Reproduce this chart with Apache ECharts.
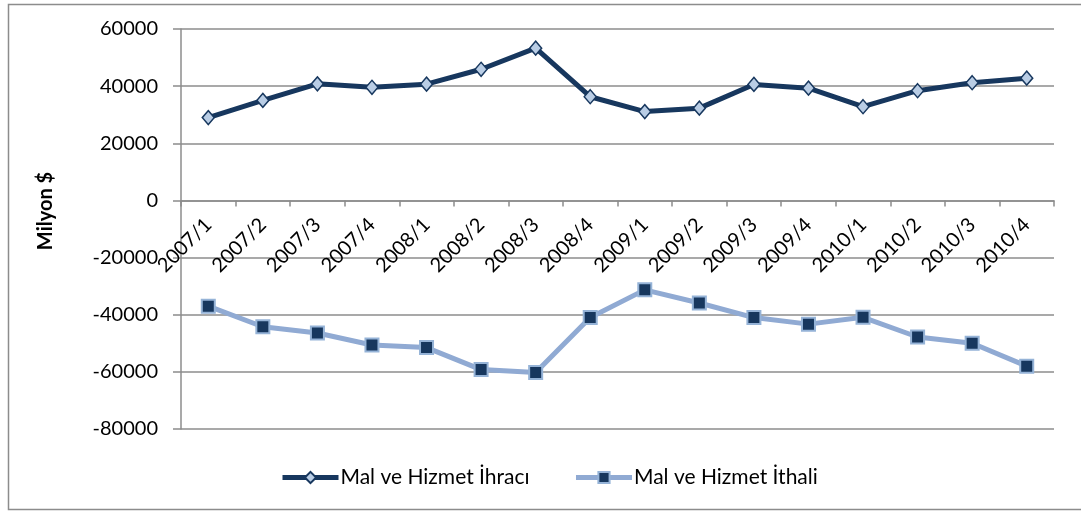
<!DOCTYPE html>
<html>
<head>
<meta charset="utf-8">
<title>Mal ve Hizmet İhracı / İthali</title>
<script src="https://cdn.jsdelivr.net/npm/echarts@6/dist/echarts.min.js"></script>
<style>
    html, body { margin: 0; padding: 0; background: #fff; }
    #chart { width: 1081px; height: 512px; }
</style>
</head>
<body>
<div id="chart"></div>
<script>
// Quarter labels
const quarters = [
    '2007/1', '2007/2', '2007/3', '2007/4',
    '2008/1', '2008/2', '2008/3', '2008/4',
    '2009/1', '2009/2', '2009/3', '2009/4',
    '2010/1', '2010/2', '2010/3', '2010/4'
];

// Values in million $
const exportValues = [
    29000, 35000, 40800, 39600,
    40700, 45900, 53300, 36300,
    31100, 32300, 40600, 39300,
    32800, 38400, 41200, 42800
];
const importValues = [
    -37000, -44200, -46400, -50600,
    -51500, -59200, -60200, -41000,
    -31300, -35900, -41000, -43300,
    -40900, -47800, -50000, -58000
];

const seriesNames = ['Mal ve Hizmet İhracı', 'Mal ve Hizmet İthali'];
const yName = 'Milyon $';
const yMin = -80000;
const yMax = 60000;

const fontName = 'Lato';

document.addEventListener('DOMContentLoaded', function() {
    const chartDom = document.getElementById('chart');
    const myChart = echarts.init(chartDom, null, { renderer: 'canvas' });

    const gridTop = 29;
    const gridBottom = 83;
    const plotHeight = 512 - gridTop - gridBottom;
    // category axis sits on the zero line, move it up from the bottom
    const zeroOffset = -plotHeight * (0 - yMin) / (yMax - yMin);

    const option = {
        animation: false,
        backgroundColor: '#fff',
        grid: {
            left: 181,
            right: 27,
            top: gridTop,
            bottom: gridBottom
        },
        graphic: [
            {
                // outer frame
                type: 'rect',
                shape: { x: 8.5, y: 4.5, width: 1100, height: 505 },
                style: { fill: 'none', stroke: '#8c8c8c', lineWidth: 1.5 },
                z: -1
            },
            {
                type: 'text',
                x: 46,
                y: 211,
                rotation: Math.PI / 2,
                style: {
                    text: yName,
                    font: 'bold 20px ' + fontName,
                    fill: '#000',
                    align: 'center',
                    verticalAlign: 'middle'
                }
            }
        ],
        legend: {
            left: 275,
            top: 462,
            itemWidth: 56,
            itemHeight: 14,
            itemGap: 44,
            lineStyle: { width: 5 },
            textStyle: {
                fontFamily: fontName,
                fontSize: 21,
                color: '#000',
                padding: [0, 0, 0, -3]
            },
            data: seriesNames
        },
        xAxis: {
            type: 'category',
            data: quarters,
            boundaryGap: true,
            position: 'bottom',
            offset: zeroOffset,
            axisLine: {
                onZero: false,
                lineStyle: { color: '#8c8c8c', width: 1.5 }
            },
            axisTick: {
                show: true,
                length: 6,
                lineStyle: { color: '#8c8c8c', width: 1.5 }
            },
            axisLabel: {
                interval: 0,
                rotate: 45,
                margin: 21,
                fontFamily: fontName,
                fontSize: 20,
                color: '#000'
            },
            splitLine: { show: false }
        },
        yAxis: {
            type: 'value',
            min: yMin,
            max: yMax,
            interval: 20000,
            axisLine: {
                show: true,
                lineStyle: { color: '#8c8c8c', width: 1.5 }
            },
            axisTick: {
                show: true,
                length: 8,
                lineStyle: { color: '#8c8c8c', width: 1.5 }
            },
            axisLabel: {
                margin: 23,
                fontFamily: fontName,
                fontSize: 20,
                color: '#000',
                formatter: function(value) {
                    return String(value);
                }
            },
            splitLine: {
                show: true,
                lineStyle: { color: '#8c8c8c', width: 1.5 }
            }
        },
        series: [
            {
                name: seriesNames[0],
                type: 'line',
                data: exportValues,
                symbol: 'diamond',
                symbolSize: [12, 14],
                lineStyle: { color: '#17375E', width: 5 },
                itemStyle: {
                    color: '#B9CDE5',
                    borderColor: '#17375E',
                    borderWidth: 1.5
                },
                z: 3
            },
            {
                name: seriesNames[1],
                type: 'line',
                data: importValues,
                symbol: 'rect',
                symbolSize: 13,
                lineStyle: { color: '#90AAD3', width: 5 },
                itemStyle: {
                    color: '#17375E',
                    borderColor: '#95B3D7',
                    borderWidth: 2
                },
                z: 3
            }
        ]
    };

    myChart.setOption(option);
});
</script>
</body>
</html>
